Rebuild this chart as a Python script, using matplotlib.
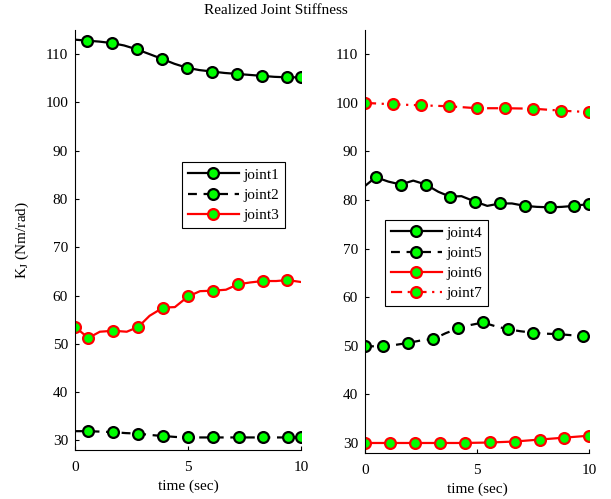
import matplotlib
matplotlib.use('Agg')
import matplotlib.pyplot as plt

plt.rcParams['font.family'] = ['Liberation Serif', 'DejaVu Serif']
plt.rcParams['mathtext.fontset'] = 'stix'

# left panel
t1 = [0, 0.52, 1.07, 1.62, 2.17, 2.73, 3.3, 3.86, 4.4, 4.94, 5.5, 6.06, 6.62, 7.18, 7.72, 8.27, 8.82, 9.38, 10]
k1 = [113.0, 112.8, 112.6, 112.3, 111.8, 111.0, 110.0, 109.0, 108.0, 107.2, 106.7, 106.4, 106.1, 105.9, 105.7, 105.5, 105.3, 105.2, 105.2]
t2 = [0, 0.59, 1.15, 1.7, 2.25, 2.8, 3.35, 3.9, 4.45, 5.0, 5.55, 6.1, 6.68, 7.26, 7.8, 8.33, 8.9, 9.44, 10]
k2 = [31.9, 31.9, 31.8, 31.7, 31.5, 31.4, 31.1, 30.9, 30.7, 30.6, 30.6, 30.6, 30.6, 30.6, 30.6, 30.6, 30.6, 30.6, 30.6]
t3 = [0, 0.59, 1.1, 1.7, 2.29, 2.8, 3.3, 3.9, 4.42, 5.0, 5.53, 6.1, 6.68, 7.2, 7.74, 8.3, 8.9, 9.4, 10]
k3 = [53.5, 51.2, 52.5, 52.7, 52.5, 53.5, 55.8, 57.5, 57.6, 59.8, 60.9, 61.0, 61.2, 62.3, 62.7, 63.0, 63.0, 63.2, 62.8]

# right panel
t4 = [0, 0.48, 1.04, 1.59, 2.15, 2.71, 3.27, 3.79, 4.3, 4.9, 5.45, 6.02, 6.55, 7.13, 7.66, 8.25, 8.78, 9.33, 10]
k4 = [82.9, 84.7, 83.8, 83.2, 84.0, 83.2, 81.7, 80.7, 80.8, 79.7, 78.8, 79.3, 79.3, 78.8, 78.6, 78.5, 78.6, 78.8, 79.2]
t5 = [0, 0.82, 1.37, 1.93, 2.49, 3.05, 3.6, 4.16, 4.72, 5.27, 5.83, 6.39, 6.93, 7.48, 8.05, 8.62, 9.16, 9.71, 10]
k5 = [49.9, 49.9, 50.2, 50.6, 51.1, 51.4, 52.6, 53.6, 54.3, 54.8, 54.0, 53.4, 53.0, 52.7, 52.5, 52.4, 52.2, 52.1, 52.1]
t6 = [0, 1.11, 2.22, 3.33, 4.44, 5.56, 6.67, 7.78, 8.89, 10]
k6 = [30.0, 30.0, 30.0, 30.0, 30.0, 30.1, 30.3, 30.7, 31.1, 31.5]
t7 = [0, 1.25, 2.5, 3.75, 5, 6.25, 7.5, 8.75, 10]
k7 = [100.0, 99.7, 99.5, 99.3, 98.9, 98.9, 98.8, 98.4, 98.1]

odd = list(range(1, 18, 2))
green = '#00ff00'
mk = dict(marker='o', markersize=7.8, markerfacecolor=green, markeredgewidth=1.6, lw=1.6)

fig = plt.figure(figsize=(6.11, 4.99), dpi=100)
ax1 = fig.add_axes([75/611, 1-450/499, 226/611, 420/499])
ax2 = fig.add_axes([365/611, 1-452.7/499, 224.3/611, 422.7/499])

ax1.plot(t1, k1, '-', color='k', markeredgecolor='k', markevery=odd + [18], label='joint1', **mk)
ax1.plot(t2, k2, '--', color='k', markeredgecolor='k', markevery=odd + [18], label='joint2', dashes=(4, 3), **mk)
ax1.plot(t3, k3, '-', color='r', markeredgecolor='r', markevery=[0] + odd, label='joint3', **mk)

ax2.plot(t4, k4, '-', color='k', markeredgecolor='k', markevery=odd + [18], label='joint4', **mk)
ax2.plot(t5, k5, '--', color='k', markeredgecolor='k', markevery=[0] + odd, label='joint5', dashes=(4, 3), **mk)
ax2.plot(t6, k6, '-', color='r', markeredgecolor='r', label='joint6', **mk)
ax2.plot(t7, k7, '-.', color='r', markeredgecolor='r', label='joint7', dashes=(5, 2.5, 1, 2.5), **mk)

for ax in (ax1, ax2):
    ax.set_xlim(0, 10)
    ax.set_ylim(28, 115)
    ax.set_xticks([0, 5, 10])
    ax.set_yticks(range(30, 111, 10))
    ax.spines['top'].set_visible(False)
    ax.spines['right'].set_visible(False)
    for s in ('left', 'bottom'):
        ax.spines[s].set_linewidth(0.8)
    ax.tick_params(direction='in', length=3, width=0.8, labelsize=11, pad=5)
    ax.tick_params(axis='x', pad=8)
    ax.set_xlabel('time (sec)', fontsize=11, labelpad=4)

ax1.set_ylabel('K$_\\mathrm{J}$ (Nm/rad)', fontsize=11, labelpad=10)

leg_kw = dict(loc='upper left', borderaxespad=0, fancybox=False, edgecolor='k',
              fontsize=11, handlelength=3.3, labelspacing=0.42, borderpad=0.4,
              handletextpad=0.3, framealpha=1)
l1 = ax1.legend(bbox_to_anchor=((182-75)/226, (450-162)/420), **leg_kw)
l2 = ax2.legend(bbox_to_anchor=((385-365)/224.3, (452.7-220)/422.7), **leg_kw)
for l in (l1, l2):
    l.get_frame().set_linewidth(0.8)

fig.text(276/611, 1-11/499, 'Realized Joint Stiffness', ha='center', va='center', fontsize=11)

fig.savefig('out.png', dpi=100)
plt.close(fig)
